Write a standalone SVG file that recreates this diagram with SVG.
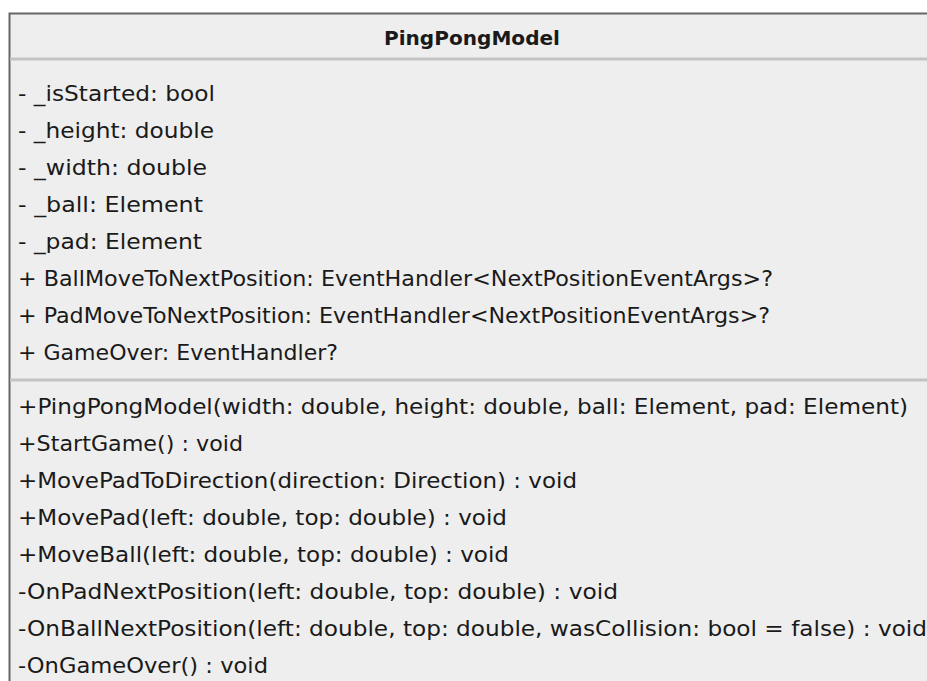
<svg xmlns="http://www.w3.org/2000/svg" width="927" height="681" viewBox="0 0 927 681">
<style>
.t{font-family:"DejaVu Sans","Open Sans",sans-serif;font-size:21px;fill:#1a1a1a}
.h{font-size:20px;font-weight:bold;text-anchor:middle}
</style>
<rect x="0" y="0" width="927" height="681" fill="#ffffff"/>
<g id="PingPongModel">
<rect x="9.5" y="13.5" width="940" height="700" fill="#eeeeee" stroke="#666666" stroke-width="2"/>
<line x1="10" y1="59" x2="927" y2="59" stroke="#c3c3c3" stroke-width="3"/>
<line x1="10" y1="380" x2="927" y2="380" stroke="#c3c3c3" stroke-width="3"/>
<text class="t h" x="472" y="45" textLength="176" lengthAdjust="spacingAndGlyphs">PingPongModel</text>
<text class="t" x="18" y="101" textLength="197" lengthAdjust="spacingAndGlyphs">- _isStarted: bool</text>
<text class="t" x="18" y="138" textLength="196" lengthAdjust="spacingAndGlyphs">- _height: double</text>
<text class="t" x="18" y="175" textLength="189" lengthAdjust="spacingAndGlyphs">- _width: double</text>
<text class="t" x="18" y="212" textLength="185" lengthAdjust="spacingAndGlyphs">- _ball: Element</text>
<text class="t" x="18" y="249" textLength="184" lengthAdjust="spacingAndGlyphs">- _pad: Element</text>
<text class="t" x="18" y="286" textLength="755" lengthAdjust="spacingAndGlyphs">+ BallMoveToNextPosition: EventHandler&lt;NextPositionEventArgs&gt;?</text>
<text class="t" x="18" y="323" textLength="752" lengthAdjust="spacingAndGlyphs">+ PadMoveToNextPosition: EventHandler&lt;NextPositionEventArgs&gt;?</text>
<text class="t" x="18" y="360" textLength="320" lengthAdjust="spacingAndGlyphs">+ GameOver: EventHandler?</text>
<text class="t" x="18" y="414" textLength="890" lengthAdjust="spacingAndGlyphs">+PingPongModel(width: double, height: double, ball: Element, pad: Element)</text>
<text class="t" x="18" y="451" textLength="225" lengthAdjust="spacingAndGlyphs">+StartGame() : void</text>
<text class="t" x="18" y="488" textLength="559" lengthAdjust="spacingAndGlyphs">+MovePadToDirection(direction: Direction) : void</text>
<text class="t" x="18" y="525" textLength="489" lengthAdjust="spacingAndGlyphs">+MovePad(left: double, top: double) : void</text>
<text class="t" x="18" y="562" textLength="491" lengthAdjust="spacingAndGlyphs">+MoveBall(left: double, top: double) : void</text>
<text class="t" x="18" y="599" textLength="600" lengthAdjust="spacingAndGlyphs">-OnPadNextPosition(left: double, top: double) : void</text>
<text class="t" x="18" y="636" textLength="909" lengthAdjust="spacingAndGlyphs">-OnBallNextPosition(left: double, top: double, wasCollision: bool = false) : void</text>
<text class="t" x="18" y="673" textLength="250" lengthAdjust="spacingAndGlyphs">-OnGameOver() : void</text>
</g>
<g id="connectors"/>
</svg>
